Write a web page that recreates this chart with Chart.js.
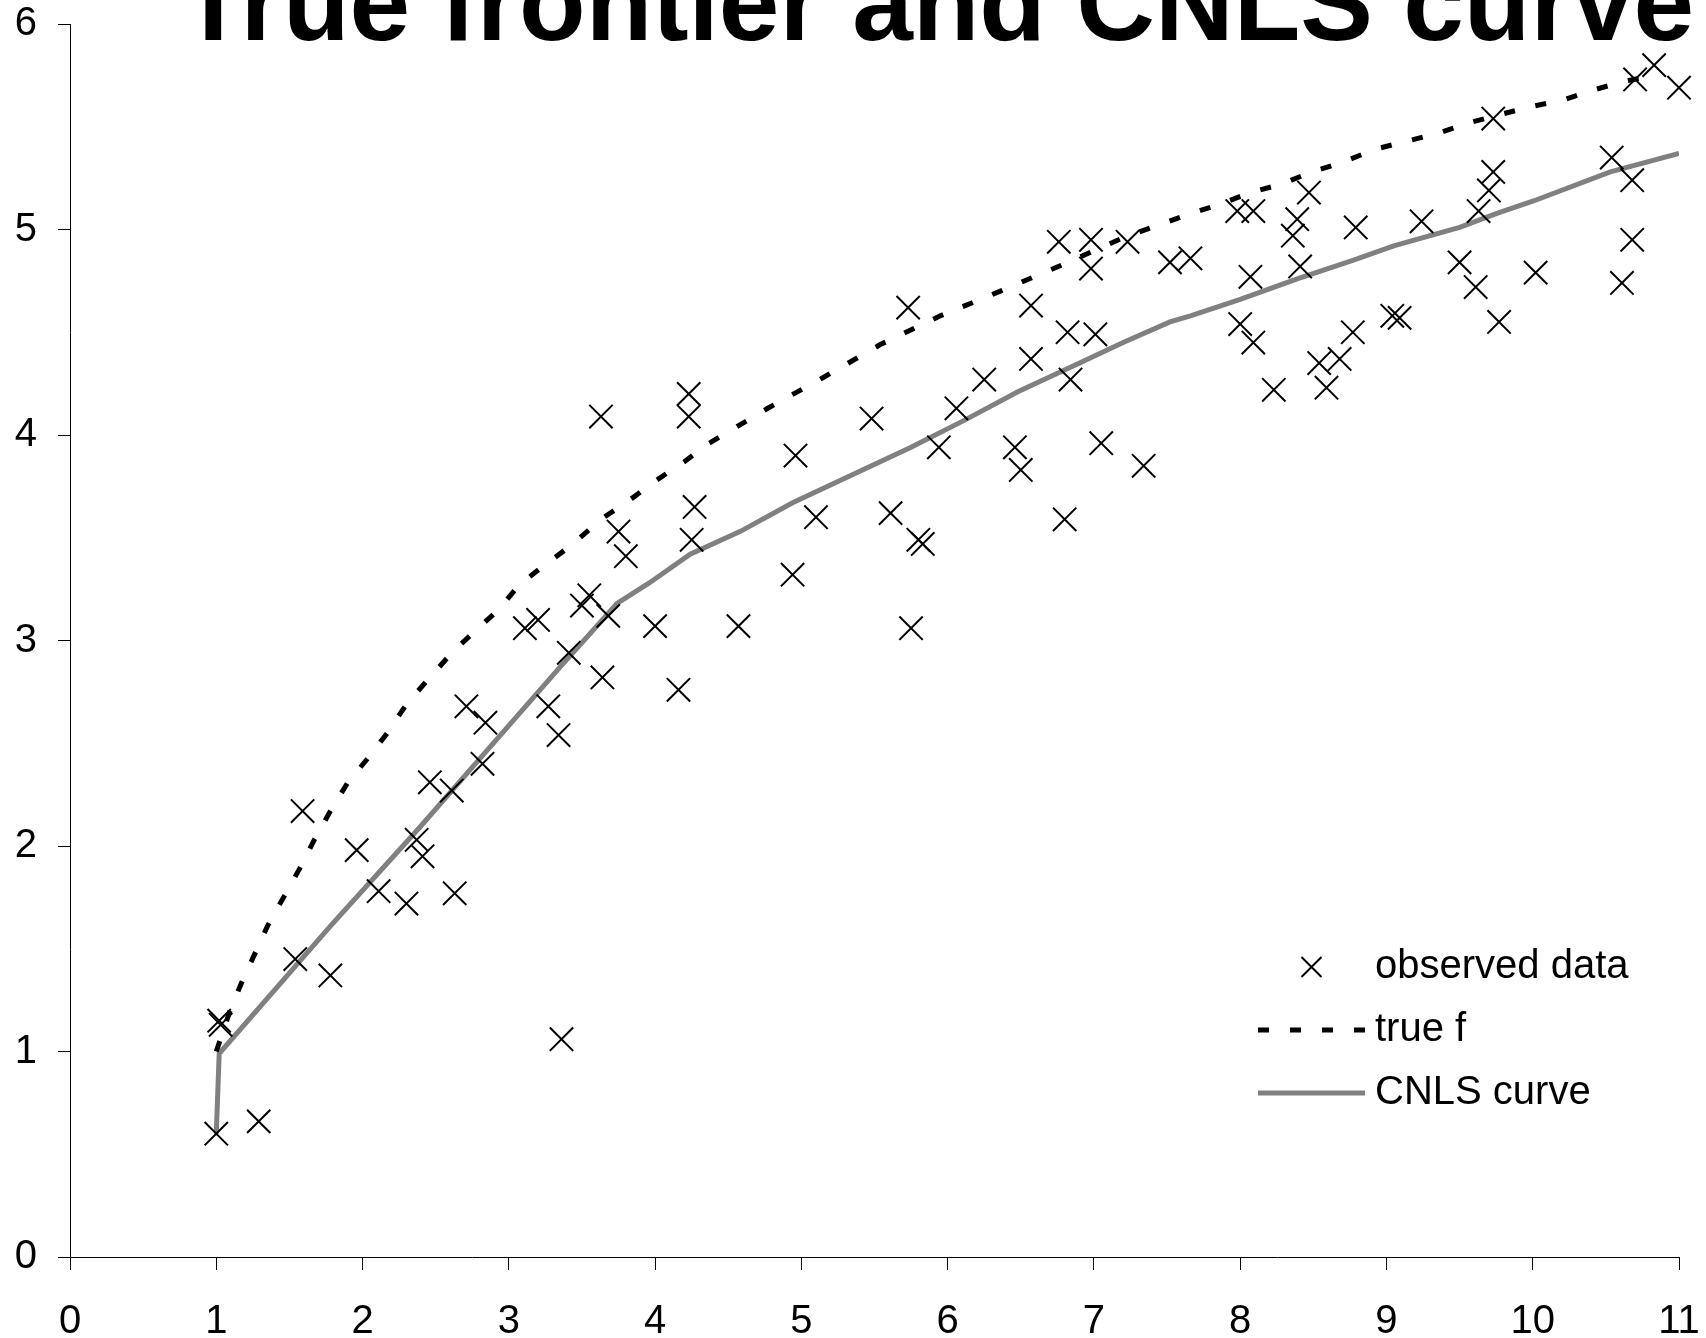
<!DOCTYPE html>
<html>
<head>
<meta charset="utf-8">
<script src="https://cdn.jsdelivr.net/npm/chart.js@4.4.0/dist/chart.umd.min.js"></script>
<style>
  html, body { margin: 0; padding: 0; background: #fff; }
</style>
</head>
<body>
<canvas id="canvas-1" width="1706" height="1338"></canvas>
<script>
// observed data (x, y)
const obsX = [
  1.00, 1.29, 1.02, 1.03, 1.54,  1.59, 1.78, 1.96, 2.11, 2.30,
  2.37, 2.41, 2.46, 2.61, 2.63,  2.71, 2.82, 2.84, 3.11, 3.20,
  3.27, 3.34, 3.36, 3.41, 3.50,  3.55, 3.63, 3.64, 3.68, 3.75,
  3.80, 4.00, 4.16, 4.23, 4.23,  4.25, 4.27, 4.57, 4.94, 4.96,
  5.10, 5.48, 5.61, 5.73, 5.75,  5.80, 5.83, 5.94, 6.06, 6.25,
  6.46, 6.50, 6.57, 6.57, 6.76,  6.80, 6.82, 6.84, 6.98, 6.98,
  7.01, 7.05, 7.23, 7.34, 7.52,  7.66, 7.98, 8.00, 8.07, 8.09,
  8.09, 8.23, 8.36, 8.39, 8.41,  8.47, 8.54, 8.59, 8.68, 8.77,
  8.79, 9.04, 9.09, 9.24, 9.50,  9.61, 9.63, 9.70, 9.73, 9.73,
  9.77, 10.02, 10.54, 10.61, 10.68,  10.68, 10.70, 10.83, 11.00
]
const obsY = [
  0.60, 0.66, 1.15, 1.13, 1.45,  2.17, 1.37, 1.98, 1.78, 1.72,
  2.03, 1.95, 2.31, 2.27, 1.77,  2.68, 2.40, 2.60, 3.06, 3.10,
  2.68, 2.54, 1.06, 2.94, 3.17,  3.22, 4.09, 2.82, 3.12, 3.53,
  3.41, 3.07, 2.76, 4.20, 4.09,  3.49, 3.65, 3.07, 3.32, 3.90,
  3.60, 4.08, 3.62, 4.62, 3.06,  3.49, 3.47, 3.94, 4.13, 4.27,
  3.94, 3.83, 4.63, 4.37, 4.94,  3.59, 4.50, 4.27, 4.95, 4.81,
  4.49, 3.96, 4.94, 3.85, 4.84,  4.86, 5.09, 4.54, 4.77, 5.09,
  4.45, 4.22, 4.97, 5.05, 4.82,  5.18, 4.35, 4.23, 4.37, 4.50,
  5.01, 4.58, 4.57, 5.04, 4.84,  4.72, 5.09, 5.19, 5.28, 5.54,
  4.55, 4.79, 5.35, 4.74, 5.24,  4.95, 5.73, 5.80, 5.69
]

// true frontier f
const trueX = [
  1.00, 1.09, 1.17, 1.26, 1.35, 1.46, 1.57, 1.67, 1.78, 1.90,
  2.04, 2.18, 2.30, 2.46, 2.61, 2.76, 2.93, 3.07, 3.25, 3.44,
  3.63, 3.82, 4.01, 4.20, 4.37, 4.77, 5.15, 5.54, 5.95, 6.36,
  6.79, 7.20, 7.63, 7.85, 8.07, 8.28, 8.49, 8.71, 8.92, 9.14,
  9.36, 9.57, 9.78, 10.00, 10.21, 10.42, 10.62, 10.83
]
const trueY = [
  1.00, 1.19, 1.33, 1.47, 1.61, 1.75, 1.89, 2.03, 2.17, 2.31,
  2.43, 2.56, 2.69, 2.82, 2.94, 3.04, 3.15, 3.27, 3.37, 3.47,
  3.59, 3.68, 3.78, 3.87, 3.96, 4.13, 4.28, 4.44, 4.58, 4.70,
  4.83, 4.96, 5.07, 5.12, 5.18, 5.22, 5.28, 5.33, 5.39, 5.43,
  5.47, 5.52, 5.56, 5.60, 5.63, 5.68, 5.72, 5.75
]

// CNLS estimate
const cnlsX = [
  1.00, 1.02, 1.78, 2.39, 2.82, 3.35, 3.74, 3.96, 4.24, 4.58,
  4.94, 5.48, 5.75, 6.11, 6.48, 6.84, 7.20, 7.52, 7.66, 8.00,
  8.39, 8.77, 9.05, 9.50, 9.76, 10.01, 10.53, 11.00
]
const cnlsY = [
  0.60, 0.99, 1.61, 2.09, 2.44, 2.87, 3.18, 3.28, 3.42, 3.53,
  3.67, 3.85, 3.94, 4.07, 4.21, 4.33, 4.45, 4.55, 4.58, 4.66,
  4.76, 4.85, 4.92, 5.01, 5.08, 5.14, 5.28, 5.37
]

const labels = ['observed data', 'true f', 'CNLS curve']
const chartTitle = 'True frontier and CNLS curve'

const toPoints = (xs, ys) => xs.map((x, i) => ({ x: x, y: ys[i] }))

const fontFamily = '"Liberation Sans", Arial, Helvetica, sans-serif'
Chart.defaults.font.family = fontFamily
Chart.defaults.color = '#000'

// big title, partly cut off at the top like the original
const bigTitle = {
  id: 'bigTitle',
  afterDraw(chart, args, opts) {
    const ctx = chart.ctx
    ctx.save()
    ctx.font = 'bold ' + opts.size + 'px ' + fontFamily
    ctx.fillStyle = '#000'
    ctx.textAlign = 'center'
    ctx.textBaseline = 'alphabetic'
    ctx.fillText(opts.text, opts.x, opts.y)
    ctx.restore()
  }
}

// legend drawn inside the plot, lower right
const innerLegend = {
  id: 'innerLegend',
  afterDraw(chart, args, opts) {
    const ctx = chart.ctx
    ctx.save()
    ctx.font = opts.size + 'px ' + fontFamily
    ctx.textBaseline = 'middle'
    ctx.textAlign = 'left'
    chart.data.datasets.forEach((ds, i) => {
      const y = opts.top + i * opts.gap
      if (ds.showLine) {
        ctx.strokeStyle = ds.borderColor
        ctx.lineWidth = ds.borderWidth
        ctx.lineCap = 'butt'
        ctx.setLineDash(ds.borderDash || [])
        ctx.beginPath()
        ctx.moveTo(opts.sampleLeft, y)
        ctx.lineTo(opts.sampleRight, y)
        ctx.stroke()
        ctx.setLineDash([])
      } else {
        const cx = (opts.sampleLeft + opts.sampleRight) / 2
        const r = opts.mark
        ctx.strokeStyle = ds.borderColor
        ctx.lineWidth = ds.pointBorderWidth
        ctx.beginPath()
        ctx.moveTo(cx - r, y - r); ctx.lineTo(cx + r, y + r)
        ctx.moveTo(cx - r, y + r); ctx.lineTo(cx + r, y - r)
        ctx.stroke()
      }
      ctx.fillStyle = '#000'
      ctx.fillText(ds.label, opts.textLeft, y)
    })
    ctx.restore()
  }
}

const axisGrid = {
  display: true,
  drawOnChartArea: false,
  drawTicks: true,
  tickColor: '#000',
  tickWidth: 1
}

new Chart(document.getElementById('canvas-1'), {
  type: 'scatter',
  data: {
    datasets: [
      {
        label: labels[0],
        data: toPoints(obsX, obsY),
        showLine: false,
        pointStyle: 'crossRot',
        pointRadius: 16.5,
        pointBorderWidth: 2,
        borderColor: '#000',
        backgroundColor: '#000',
        clip: false
      },
      {
        label: labels[1],
        data: toPoints(trueX, trueY),
        showLine: true,
        pointRadius: 0,
        borderColor: '#000',
        borderWidth: 5,
        borderDash: [11, 21],
        borderCapStyle: 'butt',
        tension: 0,
        fill: false
      },
      {
        label: labels[2],
        data: toPoints(cnlsX, cnlsY),
        showLine: true,
        pointRadius: 0,
        borderColor: '#808080',
        borderWidth: 5,
        tension: 0,
        fill: false
      }
    ]
  },
  options: {
    responsive: false,
    animation: false,
    events: [],
    layout: { padding: { top: 24, right: 27, bottom: 0, left: 0 } },
    plugins: {
      legend: { display: false },
      title: { display: false },
      tooltip: { enabled: false },
      bigTitle: { text: chartTitle, size: 109, x: 937, y: 40 },
      innerLegend: { size: 40, top: 967, gap: 63, sampleLeft: 1258, sampleRight: 1365, textLeft: 1375, mark: 10 }
    },
    scales: {
      x: {
        type: 'linear',
        min: 0,
        max: 11,
        ticks: { stepSize: 1, font: { size: 40 }, padding: 28, maxRotation: 0, autoSkip: false },
        grid: Object.assign({ tickLength: 13 }, axisGrid),
        border: { display: true, color: '#000', width: 1 },
        afterFit(scale) {
          scale.height = 81
          scale.paddingLeft = 0
          scale.paddingRight = 0
        }
      },
      y: {
        type: 'linear',
        min: 0,
        max: 6,
        ticks: { stepSize: 1, font: { size: 40 }, padding: 21 },
        grid: Object.assign({ tickLength: 12 }, axisGrid),
        border: { display: true, color: '#000', width: 1 },
        afterFit(scale) {
          scale.width = 70
          scale.paddingTop = 0
          scale.paddingBottom = 0
        }
      }
    }
  },
  plugins: [bigTitle, innerLegend]
})
</script>
</body>
</html>
